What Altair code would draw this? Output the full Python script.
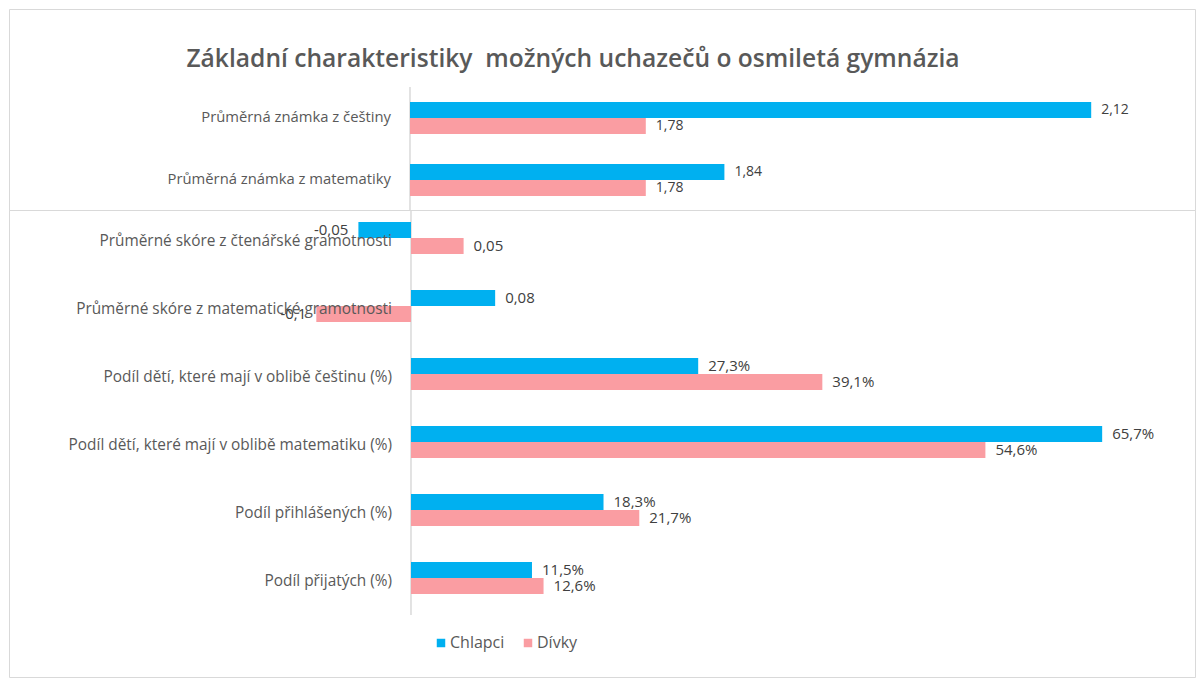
import altair as alt
import pandas as pd

series = ["Chlapci", "Dívky"]
colors = ["#00B0F0", "#FA9DA2"]

top_categories = ["Průměrná známka z češtiny", "Průměrná známka z matematiky"]
top_boys = [2.12, 1.84]
top_girls = [1.78, 1.78]
top_boys_labels = ["2,12", "1,84"]
top_girls_labels = ["1,78", "1,78"]

bottom_categories = [
    "Průměrné skóre z čtenářské gramotnosti",
    "Průměrné skóre z matematické gramotnosti",
    "Podíl dětí, které mají v oblibě češtinu (%)",
    "Podíl dětí, které mají v oblibě matematiku (%)",
    "Podíl přihlášených (%)",
    "Podíl přijatých (%)",
]
bottom_boys = [-0.05, 0.08, 0.273, 0.657, 0.183, 0.115]
bottom_girls = [0.05, -0.09, 0.391, 0.546, 0.217, 0.126]
bottom_boys_labels = ["-0,05", "0,08", "27,3%", "65,7%", "18,3%", "11,5%"]
bottom_girls_labels = ["0,05", "-0,1", "39,1%", "54,6%", "21,7%", "12,6%"]

title_text = "Základní charakteristiky\u00a0 možných uchazečů o osmiletá gymnázia"

FONT = "Open Sans"
W = 1186


def long_df(cats, boys, girls, bl, gl):
    rows = []
    for c, b, g, lb, lg in zip(cats, boys, girls, bl, gl):
        rows.append({"cat": c, "series": series[0], "value": b, "label": lb})
        rows.append({"cat": c, "series": series[1], "value": g, "label": lg})
    return pd.DataFrame(rows)


LEGEND = alt.Legend(
    orient="none", legendX=424, legendY=626, direction="horizontal", title=None,
    symbolType="square", symbolSize=72, symbolStrokeWidth=0,
    labelFont=FONT, labelFontSize=16, labelColor="#595959",
    columnPadding=15, labelOffset=1,
)


def panel(df, cats, base, domain, height, yrange, bar_px, cat_fs, val_fs, show_ticks):
    n = len(cats)
    step = (yrange[1] - yrange[0]) / n
    po_off = (step / bar_px - 2) / 2
    yscale = alt.Scale(domain=cats, range=yrange, paddingInner=0, paddingOuter=0)
    xscale = alt.Scale(domain=domain, nice=False, zero=False)
    if show_ticks:
        yaxis = alt.Axis(labels=False, domain=False, ticks=True, tickBand="extent",
                         tickColor="#d9d9d9", tickSize=4, offset=-401, title=None, grid=False)
    else:
        yaxis = None
    y = alt.Y("cat:N", scale=yscale, axis=None)
    yoff = alt.YOffset("series:N", scale=alt.Scale(domain=series, paddingInner=0, paddingOuter=po_off))
    color = alt.Color("series:N", scale=alt.Scale(domain=series, range=colors), legend=LEGEND)

    base_ch = alt.Chart(df)
    cat_df = pd.DataFrame({"cat": cats, "zx": [base] * n})

    zero_line = alt.Chart(cat_df).mark_bar(
        fill="transparent", stroke="#d9d9d9", strokeWidth=1, clip=True
    ).encode(
        x=alt.X("zx:Q", scale=xscale, axis=None), x2="zx:Q",
        y=alt.Y("cat:N", scale=yscale, axis=yaxis),
    )

    bars = base_ch.mark_bar().encode(
        x=alt.X("value:Q", scale=xscale, axis=None),
        x2=alt.datum(base),
        y=y, yOffset=yoff, color=color,
    )
    pos_lbl = base_ch.transform_filter(f"datum.value >= {base}").mark_text(
        align="left", baseline="middle", dx=10, font=FONT, fontSize=val_fs, color="#404040"
    ).encode(x=alt.X("value:Q", scale=xscale, axis=None), y=y, yOffset=yoff, text="label:N")
    neg_lbl = base_ch.transform_filter(f"datum.value < {base}").mark_text(
        align="right", baseline="middle", dx=-10, font=FONT, fontSize=val_fs, color="#404040"
    ).encode(x=alt.X("value:Q", scale=xscale, axis=None), y=y, yOffset=yoff, text="label:N")
    cat_lbl = alt.Chart(cat_df).mark_text(
        align="right", baseline="middle", dx=-19, font=FONT, fontSize=cat_fs, color="#595959"
    ).encode(x=alt.X("zx:Q", scale=xscale, axis=None), y=y, text="cat:N")

    return alt.layer(zero_line, bars, cat_lbl, pos_lbl, neg_lbl).properties(width=W, height=height)


top_df = long_df(top_categories, top_boys, top_girls, top_boys_labels, top_girls_labels)
bot_df = long_df(bottom_categories, bottom_boys, bottom_girls, bottom_boys_labels, bottom_girls_labels)

# top: base 1.6 at 401px from left, 1310 px per unit
top_base = 1.6
top_domain = [top_base - 401 / 1310, top_base + (W - 401) / 1310]
# bottom: base 0 at 402px from left, 1052 px per unit
bot_domain = [-402 / 1052, (W - 402) / 1052]

top = panel(top_df, top_categories, top_base, top_domain, 201, [78, 202], 16, 14.8, 14, True)
bottom = panel(bot_df, bottom_categories, 0, bot_domain, 467, [-3, 405], 17, 15.4, 15, False)

chart = alt.vconcat(top, bottom, spacing=0, bounds="flush").resolve_scale(
    x="independent", y="independent"
).properties(
    padding={"left": 0, "top": 0, "right": 0, "bottom": 0},
    title=alt.TitleParams(
        title_text, font=FONT, fontSize=24.6, fontWeight=600, color="#595959",
        anchor="middle", dx=-29, dy=83, baseline="alphabetic", offset=0,
    ),
).configure_view(stroke="#d9d9d9", strokeWidth=1)

chart.save("out.html", embed_options={"renderer": "svg", "actions": False})
